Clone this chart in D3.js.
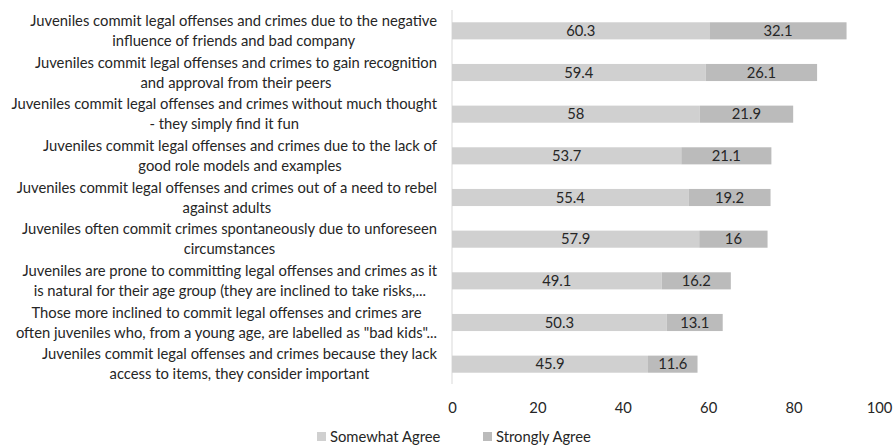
<!DOCTYPE html>
<html><head><meta charset="utf-8">
<script src="https://cdn.jsdelivr.net/npm/d3@7"></script>
<style>body{margin:0;background:#fff}svg{display:block}</style>
</head><body><svg id="c" width="895" height="446"></svg>
<script>
const categories = [
  ["Juveniles commit legal offenses and crimes due to the negative","influence of friends and bad company"],
  ["Juveniles commit legal offenses and crimes to gain recognition","and approval from their peers"],
  ["Juveniles commit legal offenses and crimes without much thought","- they simply find it fun"],
  ["Juveniles commit legal offenses and crimes due to the lack of","good role models and examples"],
  ["Juveniles commit legal offenses and crimes out of a need to rebel","against adults"],
  ["Juveniles often commit crimes spontaneously due to unforeseen","circumstances"],
  ["Juveniles are prone to committing legal offenses and crimes as it","is natural for their age group (they are inclined to take risks,..."],
  ["Those more inclined to commit legal offenses and crimes are","often juveniles who, from a young age, are labelled as \"bad kids\"..."],
  ["Juveniles commit legal offenses and crimes because they lack","access to items, they consider important"]
];
const somewhatAgree = [60.3, 59.4, 58, 53.7, 55.4, 57.9, 49.1, 50.3, 45.9];
const stronglyAgree = [32.1, 26.1, 21.9, 21.1, 19.2, 16, 16.2, 13.1, 11.6];
const seriesNames = ["Somewhat Agree", "Strongly Agree"];
const xTicks = [0, 20, 40, 60, 80, 100];

const colors = ["#d0d0d0", "#bbbbbb"];
const font = "Lato, 'Open Sans', sans-serif";
const textColor = "#262626";

const svg = d3.select("#c");
const x = d3.scaleLinear().domain([0, 100]).range([452, 879]);
const y = d3.scaleBand().domain(d3.range(categories.length)).range([10, 385]).paddingInner(0.59).paddingOuter(0.295);

// determine label font size to match reference widths
const probe = svg.append("text").attr("font-family", font).attr("font-size", 14).text(categories[0][0]);
const w = probe.node().getComputedTextLength();
probe.remove();
const labelSize = 14 * 407 / w;

// axis line at zero
svg.append("line").attr("x1", x(0)).attr("x2", x(0)).attr("y1", 10).attr("y2", 384)
  .attr("stroke", "#d9d9d9").attr("stroke-width", 1);

const rows = svg.append("g").selectAll("g").data(categories).join("g");
rows.each(function(d, i) {
  const g = d3.select(this);
  const x0 = x(0), x1 = x(somewhatAgree[i]), x2 = x(somewhatAgree[i] + stronglyAgree[i]);
  g.append("rect").attr("x", x0).attr("y", y(i)).attr("width", x1 - x0).attr("height", y.bandwidth()).attr("fill", colors[0]);
  g.append("rect").attr("x", x1).attr("y", y(i)).attr("width", x2 - x1).attr("height", y.bandwidth()).attr("fill", colors[1]);
  const cy = y(i) + y.bandwidth() / 2;
  g.append("text").attr("x", (x0 + x1) / 2).attr("y", cy).attr("dy", "0.35em").attr("text-anchor", "middle")
    .attr("font-family", font).attr("font-size", labelSize).attr("fill", textColor).text(somewhatAgree[i]);
  g.append("text").attr("x", (x1 + x2) / 2).attr("y", cy).attr("dy", "0.35em").attr("text-anchor", "middle")
    .attr("font-family", font).attr("font-size", labelSize).attr("fill", textColor).text(stronglyAgree[i]);
  // category label, lines centered on the longest line, block right-aligned at 437
  const t = g.append("text").attr("font-family", font).attr("font-size", labelSize).attr("fill", textColor).attr("text-anchor", "middle");
  const lh = 20;
  d.forEach((line, k) => {
    t.append("tspan").attr("y", cy + (k - (d.length - 1) / 2) * lh).attr("dy", "0.35em").text(line);
  });
  let maxW = 0;
  t.selectAll("tspan").each(function() { maxW = Math.max(maxW, this.getComputedTextLength()); });
  t.selectAll("tspan").attr("x", 437 - maxW / 2);
});

// x axis tick labels
const ax = svg.append("g").attr("transform", "translate(0,408)")
  .call(d3.axisBottom(x).tickValues(xTicks).tickSize(0).tickPadding(0));
ax.select(".domain").remove();
ax.selectAll("text").attr("font-family", font).attr("font-size", labelSize).attr("fill", textColor).attr("dy", "0.35em").attr("y", 0);

// legend
const lg = svg.append("g");
const legX = [317, 483];
seriesNames.forEach((n, i) => {
  lg.append("rect").attr("x", legX[i]).attr("y", 432).attr("width", 9).attr("height", 9).attr("fill", colors[i]);
  lg.append("text").attr("x", legX[i] + 13).attr("y", 436.5).attr("dy", "0.35em").attr("font-family", font)
    .attr("font-size", labelSize).attr("fill", textColor).text(n);
});
</script></body></html>
